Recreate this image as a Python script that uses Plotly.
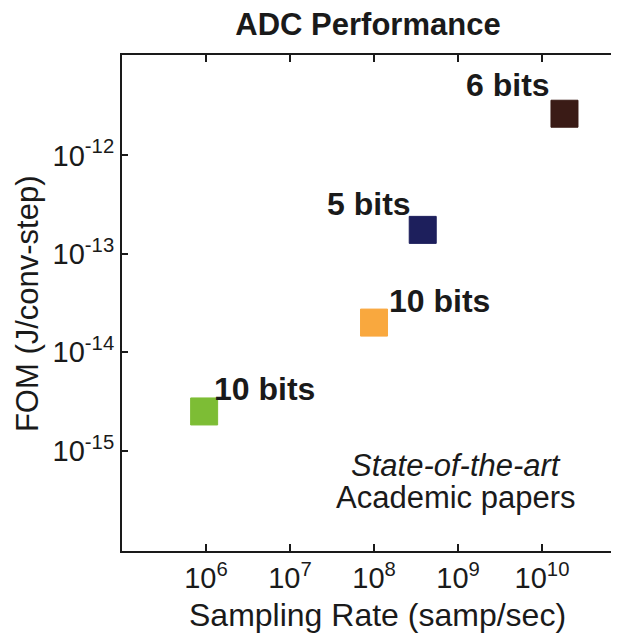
import math
import plotly.graph_objects as go

# ---- data ----
sampling_rate = [9.5e5, 1.0e8, 3.8e8, 1.85e10]          # samp/sec
fom = [2.5e-15, 2.0e-14, 1.75e-13, 2.65e-12]             # J/conv-step
bits_labels = ["10 bits", "10 bits", "5 bits", "6 bits"]
marker_colors = ["#7dbd35", "#f9a83e", "#1d1f5c", "#3a1b16"]

x_tickvals = [1e6, 1e7, 1e8, 1e9, 1e10]
x_ticktext = ["10<sup>6</sup>", "10<sup>7</sup>", "10<sup>8</sup>", "10<sup>9</sup>", "10<sup>10</sup>"]
y_tickvals = [1e-15, 1e-14, 1e-13, 1e-12]
y_ticktext = ["10<sup>-15</sup>", "10<sup>-14</sup>", "10<sup>-13</sup>", "10<sup>-12</sup>"]

# label placement styles (relative to each marker)
label_xanchor = ["left", "left", "right", "right"]
label_xshift = [8, 13, -10, -12]
label_yshift = [22, 22, 26, 29]

FONT = "Liberation Sans, Arial, Helvetica, sans-serif"
INK = "#1a1a1a"

fig = go.Figure()
fig.add_trace(go.Scatter(
    x=sampling_rate, y=fom, mode="markers",
    marker=dict(symbol="square", size=27, color=marker_colors,
                line=dict(width=1, color=marker_colors)),
    showlegend=False, hoverinfo="x+y",
))

annotations = []
for xv, yv, txt, xa, xs, ys in zip(sampling_rate, fom, bits_labels,
                                   label_xanchor, label_xshift, label_yshift):
    annotations.append(dict(
        x=math.log10(xv), y=math.log10(yv), xref="x", yref="y",
        text="<b>" + txt + "</b>", showarrow=False,
        xanchor=xa, yanchor="middle", xshift=xs, yshift=ys,
        font=dict(family=FONT, size=32, color=INK),
    ))

annotations.append(dict(
    xref="paper", yref="paper", x=0.683, y=0.172, xanchor="center", yanchor="middle",
    text="<i>State-of-the-art</i>", showarrow=False,
    font=dict(family=FONT, size=31, color=INK),
))
annotations.append(dict(
    xref="paper", yref="paper", x=0.683, y=0.108, xanchor="center", yanchor="middle",
    text="Academic papers", showarrow=False,
    font=dict(family=FONT, size=31, color=INK),
))
# axis titles
annotations.append(dict(
    xref="paper", yref="paper", x=0.5235, y=-0.1694, xanchor="center", yanchor="bottom",
    text="Sampling Rate (samp/sec)", showarrow=False,
    font=dict(family=FONT, size=32, color=INK),
))
annotations.append(dict(
    xref="paper", yref="paper", x=-0.192, y=0.498, xanchor="center", yanchor="middle",
    text="FOM (J/conv-step)", showarrow=False, textangle=-90,
    font=dict(family=FONT, size=31, color=INK),
))

fig.update_layout(
    width=603, height=627,
    margin=dict(l=114, r=0, t=47, b=84, autoexpand=False),
    paper_bgcolor="white", plot_bgcolor="white",
    font=dict(family=FONT, color=INK),
    title=dict(text="<b>ADC Performance</b>", x=0.597, xanchor="center",
               y=0.9745, yanchor="middle",
               font=dict(family=FONT, size=31, color=INK)),
    annotations=annotations,
)

fig.update_xaxes(
    type="log", range=[5, 10.821], automargin=False,
    tickvals=x_tickvals, ticktext=x_ticktext,
    ticks="inside", ticklen=7, tickwidth=1.5, tickcolor=INK,
    showline=True, linewidth=2, linecolor=INK, mirror="ticks",
    showgrid=False, zeroline=False,
    tickfont=dict(family=FONT, size=29, color=INK),
)
fig.update_yaxes(
    type="log", range=[-16.02, -10.98], automargin=False,
    tickvals=y_tickvals, ticktext=y_ticktext,
    ticks="inside", ticklen=6, tickwidth=1.5, tickcolor=INK,
    showline=True, linewidth=2, linecolor=INK, mirror=False,
    showgrid=False, zeroline=False,
    tickfont=dict(family=FONT, size=29, color=INK),
)

fig.write_html("out.html")
